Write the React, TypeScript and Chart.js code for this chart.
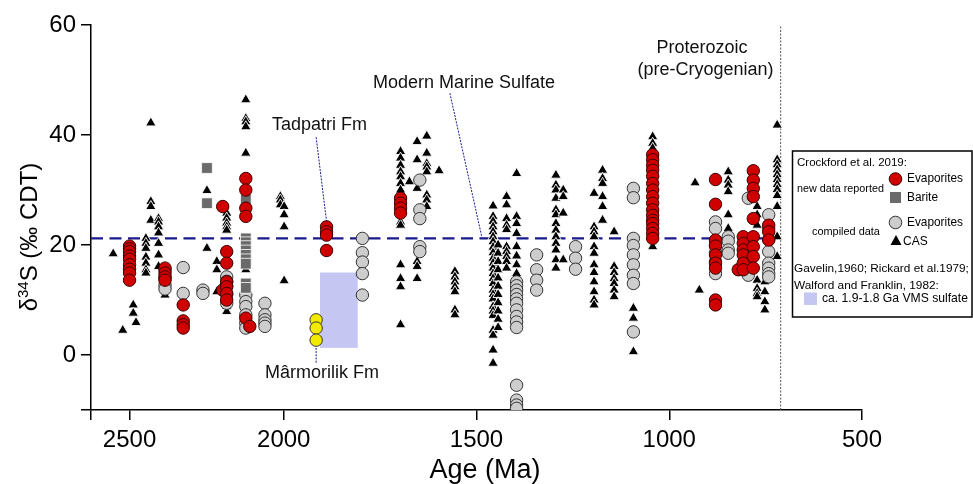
import React, { useEffect, useRef } from 'react';
import { Chart, registerables, LinearScale } from 'chart.js';

Chart.register(...registerables);

// ---------- x axis: age axis with a compressed segment older than 2000 Ma ----------
const AGE_BREAK = 2000;
const AGE_COMPRESS = 0.8;

class BrokenAgeScale extends LinearScale {
  static id = 'brokenAge';
  static defaults = LinearScale.defaults;
  fwd(v: number) { return v <= AGE_BREAK ? v : AGE_BREAK + (v - AGE_BREAK) * AGE_COMPRESS; }
  inv(u: number) { return u <= AGE_BREAK ? u : AGE_BREAK + (u - AGE_BREAK) / AGE_COMPRESS; }
  configure() {
    super.configure();
    const a = this.fwd(this.min);
    const b = this.fwd(this.max);
    (this as any)._startValue = a;
    (this as any)._endValue = b;
    (this as any)._valueRange = b - a;
  }
  getPixelForValue(value: number) {
    if (value === null || value === undefined || isNaN(value)) return NaN;
    return this.getPixelForDecimal((this.fwd(value) - (this as any)._startValue) / (this as any)._valueRange);
  }
  getValueForPixel(pixel: number) {
    return this.inv((this as any)._startValue + this.getDecimalForPixel(pixel) * (this as any)._valueRange);
  }
}
Chart.register(BrokenAgeScale);

// ---------- axes ----------
const X_MIN = 500;
const X_MAX = 2625;
const xTickValues = [2625, 2500, 2000, 1500, 1000, 500];
const Y_MIN = -10;
const Y_MAX = 60;
const yTickValues = [-10, 0, 20, 40, 60];

// ---------- data: [age Ma, d34S values] ----------
const newEvaporites: [number, number[]][] = [
  [2500, [19.8, 19.3, 18.8, 18.0, 17.4, 16.4, 15.6, 14.9, 13.6]],
  [2385, [15.8, 14.9, 14.2, 13.6]],
  [2326, [9.1, 6.2, 5.5, 4.9]],
  [2198, [27.0, 11.8]],
  [2185, [18.8, 16.7, 13.3, 12.4, 11.2, 10.0]],
  [2123, [32.1, 30.0, 26.7, 25.2, 6.7]],
  [2110, [5.2]],
  [1889, [23.3, 22.4, 21.8, 19.0]],
  [1697, [28.5, 27.6, 26.7, 25.8]],
  [1043, [36.4, 35.5, 34.5, 33.6, 32.5, 31.2, 30.0, 28.8, 27.6, 26.4, 25.4, 24.5, 23.9, 23.0, 22.1, 21.2]],
  [880, [31.9, 27.4, 20.9, 19.8, 18.2, 16.7, 15.8, 10.0, 9.1]],
  [821, [15.5]],
  [808, [21.5, 20.3, 19.1, 18.2, 16.7, 15.5]],
  [782, [33.5, 31.8, 30.3, 28.8, 24.8, 21.5, 19.7, 17.9, 15.8]],
  [742, [23.6, 22.4, 20.9]],
];

const newBarite: [number, number[]][] = [
  [2249, [34.0, 27.6]],
  [2123, [28.3, 21.2, 20.5, 19.8, 19.0, 18.2, 17.4, 16.6, 13.0, 12.2]],
];

const marmorilikFm: [number, number[]][] = [
  [1916, [6.4, 4.9, 2.7]],
];

const compiledEvaporites: [number, number[]][] = [
  [2385, [15.5, 14.0, 12.7, 12.0]],
  [2326, [15.9, 11.2]],
  [2262, [11.8, 11.2]],
  [2185, [14.2, 13.4, 12.6, 11.0, 9.4]],
  [2123, [10.9, 9.7, 8.8, 7.3, 5.8, 4.9]],
  [2061, [9.4, 7.3, 6.4, 5.8, 5.2]],
  [1796, [21.2, 18.6, 16.9, 14.8, 10.9]],
  [1647, [31.8, 26.4, 24.8, 19.7, 18.8]],
  [1396, [13.3, 12.6, 11.8, 11.0, 10.2, 9.4, 8.2, 7.0, 6.0, 5.0, -5.5, -8.2, -9.1, -9.7]],
  [1344, [18.2, 15.5, 13.6, 11.8]],
  [1243, [19.7, 17.6, 15.6]],
  [1093, [30.3, 28.6, 21.2, 19.9, 18.2, 16.4, 14.5, 13.0, 4.2]],
  [880, [24.2, 23.0, 20.0, 18.6, 17.0, 14.8]],
  [847, [21.5, 20.7, 19.1, 18.5]],
  [795, [28.5, 20.3, 18.9, 17.3, 14.5]],
  [742, [25.5, 23.0, 21.0, 18.8, 16.7, 15.8, 14.8, 14.2]],
];

const compiledCAS: [number, number[]][] = [
  [2553, [18.4]],
  [2522, [4.5]],
  [2488, [9.1, 7.6]],
  [2479, [5.9]],
  [2447, [21.2, 20.3, 19.4, 17.8, 16.7, 15.5, 14.9]],
  [2431, [42.2, 27.9, 27.0, 24.5]],
  [2406, [24.8, 24.2, 23.3, 22.2, 20.3, 18.2, 16.1]],
  [2385, [10.9]],
  [2249, [29.9, 19.4]],
  [2217, [17.0, 15.5, 11.5]],
  [2185, [25.8, 24.9, 24.0, 23.3, 22.7, 8.8, 7.9]],
  [2123, [46.4, 43.0, 42.4, 41.5, 36.7, 15.5, 4.5]],
  [2011, [28.8, 28.2, 27.3]],
  [1999, [27.0, 25.5, 23.3, 13.5]],
  [1697, [37.0, 35.8, 34.5, 33.3, 32.4, 31.2, 30.0, 24.2, 23.6, 16.4, 13.9, 12.4, 5.5]],
  [1674, [31.5]],
  [1654, [38.8, 35.5, 30.3, 17.0, 16.1, 13.9]],
  [1629, [39.8, 36.7, 34.8, 34.2, 33.3, 29.1, 28.2, 27.0]],
  [1597, [33.5]],
  [1556, [15.2, 14.2, 13.3, 12.4, 11.5, 8.2, 7.3]],
  [1457, [27.1, 25.2, 24.3, 23.3, 22.4, 21.5, 20.6, 19.6, 18.6, 17.6, 16.7, 15.8, 14.8, 13.9, 13.0, 11.8, 11.0, 10.2, 8.8, 8.0, 7.2, 4.5, 3.6, 0.9, -1.5]],
  [1444, [20.0, 18.5, 17.0, 15.5, 14.0, 12.5, 11.0, 9.5, 8.0, 6.5, 5.0]],
  [1422, [28.8, 27.3, 24.8, 23.6, 22.8, 19.7, 18.8, 17.9, 17.0, 15.8]],
  [1396, [33.0, 25.2, 23.9, 22.1, 19.7, 18.0, 16.4, 14.8]],
  [1294, [32.7, 30.9, 30.0, 28.5, 26.4, 25.5, 23.9, 22.7, 21.5, 20.3, 19.1, 17.3, 15.8]],
  [1275, [30.0, 28.8, 25.8, 17.3]],
  [1195, [29.4, 23.3, 22.4, 21.5, 19.7, 18.5, 16.4, 15.0, 13.3, 11.5, 10.0, 9.1]],
  [1173, [33.6, 32.1, 31.2, 28.8, 27.0, 24.5]],
  [1143, [22.4, 16.1, 15.0, 13.9, 13.0, 11.8, 10.6]],
  [1093, [8.5, 6.7, 0.6]],
  [1043, [39.7, 38.5, 37.6, 19.7]],
  [933, [31.3]],
  [922, [11.8]],
  [847, [33.3, 31.8, 30.9, 29.7, 25.5, 23.0]],
  [772, [27.0, 25.5, 23.6, 13.6, 12.1, 11.2, 10.6]],
  [752, [13.3, 11.5, 9.7, 8.2]],
  [720, [41.8, 35.5, 34.6, 33.7, 32.8, 31.9, 31.0, 30.1, 29.0, 27.0, 21.5, 17.9]],
];

// reference values
const modernMarineSulfate = 21.2;
const proterozoicBoundary = 711;
const vmsAges = [1906, 1808];
const vmsD34S = [1.3, 15.0];

// annotation anchors (data coordinates)
const tadpatriLeader = [[1916, 39.6], [1889, 24.3]];
const modernLeader = [[1569, 47.6], [1486, 21.4]];
const marmorilikLeader = [[1916, 1.3], [1916, -1.4]];

const FONT = '"Liberation Sans", Arial, Helvetica, sans-serif';

const toPoints = (groups: [number, number[]][]) =>
  groups.flatMap(([age, vals]) => vals.map((v) => ({ x: age, y: v })));

const RED = '#d10000';
const GRAY = '#cdcdcd';
const BARITE = '#6a6a6a';
const YELLOW = '#f2ea00';
const LAVENDER = '#c6c6f3';
const NAVY = '#1a1a8c';

// draw text fitted to a measured width
function fitText(ctx: any, text: string, x: number, y: number, width: number, maxSize: number) {
  ctx.font = `12px ${FONT}`;
  const w = ctx.measureText(text).width;
  const size = Math.min(maxSize, (12 * width) / w);
  ctx.font = `${size}px ${FONT}`;
  ctx.fillText(text, x, y);
}

const annotationPlugin = {
  id: 'annotations',
  beforeDatasetsDraw(chart: any) {
    const { ctx, scales } = chart;
    const x = scales.x, y = scales.y;
    const x0 = x.getPixelForValue(vmsAges[0]);
    const x1 = x.getPixelForValue(vmsAges[1]);
    const y0 = y.getPixelForValue(vmsD34S[1]);
    const y1 = y.getPixelForValue(vmsD34S[0]);
    ctx.save();
    ctx.fillStyle = LAVENDER;
    ctx.fillRect(x0, y0, x1 - x0, y1 - y0);
    ctx.restore();
  },
  afterDatasetsDraw(chart: any) {
    const { ctx, scales } = chart;
    const x = scales.x, y = scales.y;
    ctx.save();
    ctx.strokeStyle = NAVY;
    ctx.lineWidth = 1;
    ctx.setLineDash([2, 1.2]);
    for (const seg of [tadpatriLeader, modernLeader, marmorilikLeader]) {
      ctx.beginPath();
      ctx.moveTo(x.getPixelForValue(seg[0][0]), y.getPixelForValue(seg[0][1]));
      ctx.lineTo(x.getPixelForValue(seg[1][0]), y.getPixelForValue(seg[1][1]));
      ctx.stroke();
    }
    ctx.setLineDash([]);
    ctx.fillStyle = '#111';
    ctx.font = `18px ${FONT}`;
    ctx.textBaseline = 'middle';
    ctx.textAlign = 'left';
    ctx.fillText('Modern Marine Sulfate', 373, 83);
    ctx.fillText('Tadpatri Fm', 272, 125);
    ctx.fillText('Mârmorilik Fm', 265, 373);
    ctx.textAlign = 'center';
    ctx.fillText('Proterozoic', 702, 48);
    ctx.fillText('(pre-Cryogenian)', 705.5, 70);
    ctx.restore();
  },
  afterDraw(chart: any) {
    const { ctx } = chart;
    ctx.save();
    // axis titles
    ctx.fillStyle = '#000';
    ctx.font = `27px ${FONT}`;
    ctx.textAlign = 'center';
    ctx.textBaseline = 'alphabetic';
    ctx.fillText('Age (Ma)', 485, 478);

    ctx.save();
    ctx.translate(37, 237);
    ctx.rotate(-Math.PI / 2);
    const big = `24px ${FONT}`;
    const small = `15px ${FONT}`;
    const p1 = 'δ', p2 = '34', p3 = 'S (‰ CDT)';
    ctx.font = big; const w1 = ctx.measureText(p1).width; const w3 = ctx.measureText(p3).width;
    ctx.font = small; const w2 = ctx.measureText(p2).width;
    let cx = -(w1 + w2 + w3) / 2;
    ctx.textAlign = 'left';
    ctx.font = big; ctx.fillText(p1, cx, 0); cx += w1;
    ctx.font = small; ctx.fillText(p2, cx, -9); cx += w2;
    ctx.font = big; ctx.fillText(p3, cx, 0);
    ctx.restore();

    // legend box
    ctx.lineWidth = 1.5;
    ctx.strokeStyle = '#000';
    ctx.fillStyle = '#fff';
    ctx.fillRect(792.5, 151, 179.5, 166);
    ctx.strokeRect(792.5, 151, 179.5, 166);

    ctx.fillStyle = '#000';
    ctx.textBaseline = 'middle';
    ctx.textAlign = 'left';
    ctx.font = `11.5px ${FONT}`;
    ctx.fillText('Crockford et al. 2019:', 797, 163);
    fitText(ctx, 'new data reported', 797, 189, 87, 11);
    fitText(ctx, 'compiled data', 812, 232, 68, 11);
    fitText(ctx, 'Evaporites', 907, 179, 56, 12.5);
    fitText(ctx, 'Barite', 907, 197.5, 31, 12.5);
    fitText(ctx, 'Evaporites', 907, 223, 56, 12.5);
    ctx.font = `12px ${FONT}`;
    ctx.fillText('CAS', 903, 241.5);
    fitText(ctx, 'Gavelin,1960; Rickard et al.1979;', 794, 269, 175, 13);
    fitText(ctx, 'Walford and Franklin, 1982:', 794, 286, 145, 13);
    fitText(ctx, 'ca. 1.9-1.8 Ga VMS sulfate', 822, 298.5, 146, 13);

    // legend symbols
    ctx.lineWidth = 1;
    ctx.beginPath(); ctx.arc(895.5, 179, 6.3, 0, Math.PI * 2);
    ctx.fillStyle = RED; ctx.fill(); ctx.strokeStyle = '#3a0000'; ctx.stroke();
    ctx.fillStyle = BARITE; ctx.fillRect(890, 192, 11, 11);
    ctx.beginPath(); ctx.arc(895.5, 222.5, 6.3, 0, Math.PI * 2);
    ctx.fillStyle = GRAY; ctx.fill(); ctx.strokeStyle = '#333'; ctx.stroke();
    ctx.beginPath(); ctx.moveTo(896, 235); ctx.lineTo(901.5, 245); ctx.lineTo(890.5, 245); ctx.closePath();
    ctx.fillStyle = '#000'; ctx.fill();
    ctx.fillStyle = LAVENDER; ctx.fillRect(804, 292.5, 13, 12.5);
    ctx.restore();
  },
};

export default function App() {
  const ref = useRef<HTMLCanvasElement | null>(null);
  useEffect(() => {
    if (!ref.current) return;
    const chart = new Chart(ref.current, {
      type: 'scatter',
      data: {
        datasets: [
          {
            label: 'Mârmorilik Fm', data: toPoints(marmorilikFm), order: 0,
            pointStyle: 'circle', pointRadius: 6.2, backgroundColor: YELLOW, borderColor: '#333', borderWidth: 1,
          },
          {
            label: 'Evaporites (new)', data: toPoints(newEvaporites), order: 1,
            pointStyle: 'circle', pointRadius: 6.2, backgroundColor: RED, borderColor: '#3a0000', borderWidth: 1,
          },
          {
            label: 'Barite', data: toPoints(newBarite), order: 2,
            pointStyle: 'rect', pointRadius: 7.6, backgroundColor: BARITE, borderColor: '#ffffff', borderWidth: 0.8,
          },
          {
            label: 'Evaporites (compiled)', data: toPoints(compiledEvaporites), order: 3,
            pointStyle: 'circle', pointRadius: 6.2, backgroundColor: GRAY, borderColor: '#333', borderWidth: 1,
          },
          {
            label: 'CAS', data: toPoints(compiledCAS), order: 4,
            pointStyle: 'triangle', pointRadius: 6, backgroundColor: '#000', borderColor: '#ffffff', borderWidth: 0.9,
          },
          {
            label: 'Modern Marine Sulfate', type: 'line', order: 5,
            data: [{ x: X_MAX, y: modernMarineSulfate }, { x: proterozoicBoundary, y: modernMarineSulfate }],
            borderColor: NAVY, borderWidth: 2.2, borderDash: [12, 6.5], pointRadius: 0, showLine: true,
          },
          {
            label: 'Proterozoic boundary', type: 'line', order: 6,
            data: [{ x: proterozoicBoundary, y: Y_MIN }, { x: proterozoicBoundary, y: Y_MAX }],
            borderColor: '#555', borderWidth: 1, borderDash: [2, 1.5], pointRadius: 0, showLine: true,
          },
        ],
      },
      options: {
        responsive: false,
        animation: false,
        events: [],
        layout: { padding: { top: 25, right: 111, left: 0, bottom: 0 } },
        plugins: { legend: { display: false }, tooltip: { enabled: false } },
        scales: {
          x: {
            type: 'brokenAge',
            reverse: true,
            min: X_MIN,
            max: X_MAX,
            afterFit: (s: any) => { s.height = 74; },
            afterBuildTicks: (s: any) => { s.ticks = xTickValues.map((v) => ({ value: v })); },
            grid: { drawOnChartArea: false, drawTicks: true, tickLength: 10, color: '#000', lineWidth: 1.5 },
            border: { display: true, color: '#000', width: 1.5 },
            ticks: {
              autoSkip: false, maxRotation: 0, padding: 6, color: '#000',
              font: { family: FONT, size: 24 },
              callback: (v: any) => (v === X_MAX ? '' : String(v)),
            },
          },
          y: {
            type: 'linear',
            min: Y_MIN,
            max: Y_MAX,
            afterFit: (s: any) => { s.width = 91; },
            afterBuildTicks: (s: any) => { s.ticks = yTickValues.map((v) => ({ value: v })); },
            grid: { drawOnChartArea: false, drawTicks: true, tickLength: 10, color: '#000', lineWidth: 1.5 },
            border: { display: true, color: '#000', width: 1.5 },
            ticks: {
              autoSkip: false, padding: 5, color: '#000',
              font: { family: FONT, size: 24 },
              callback: (v: any) => (v === Y_MIN ? '' : String(v)),
            },
          },
        },
      } as any,
      plugins: [annotationPlugin],
    });
    return () => chart.destroy();
  }, []);
  return (
    <div style={{ position: 'fixed', left: 0, top: 0, width: 973, height: 484, background: '#fff' }}>
      <canvas ref={ref} width={973} height={484} />
    </div>
  );
}
